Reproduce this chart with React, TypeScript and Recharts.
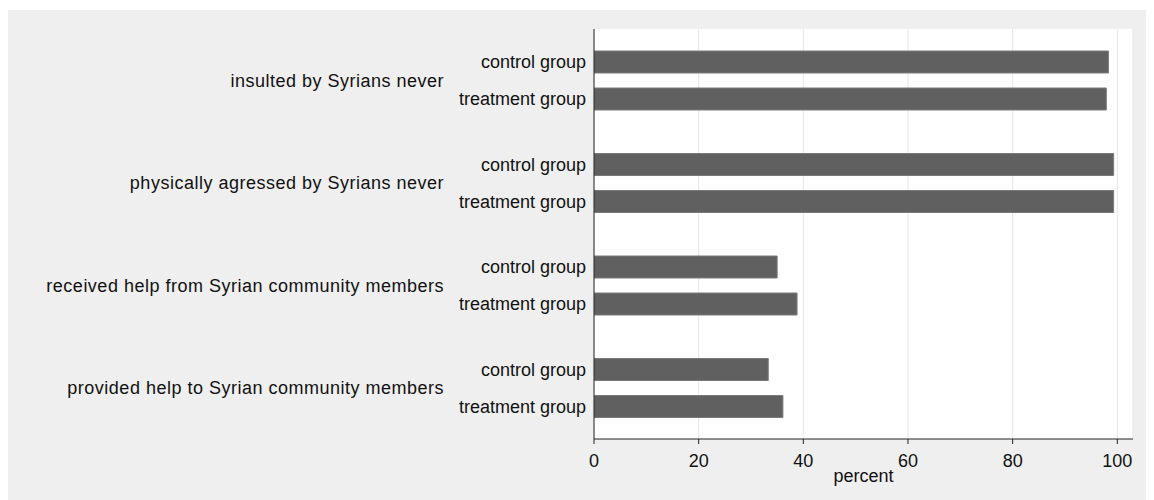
import { Bar, BarChart, CartesianGrid, LabelList, XAxis, YAxis } from 'recharts';

// Outcome questions, top to bottom
const questions = [
  'insulted by Syrians never',
  'physically agressed by Syrians never',
  'received help from Syrian community members',
  'provided help to Syrian community members',
];

// percent answering yes / never, by group
const controlValues = [98.3, 99.3, 35.0, 33.3];
const treatmentValues = [97.9, 99.3, 38.8, 36.1];

const xTicks = [0, 20, 40, 60, 80, 100];

const BAR_COLOR = '#606060';
const TEXT_COLOR = '#111';
const FONT = '"Liberation Sans", Arial, sans-serif';

const data = questions.map((q, i) => ({
  question: q,
  control: controlValues[i],
  treatment: treatmentValues[i],
}));

export default function App() {
  return (
    <div style={{ background: '#efefef', width: 1144, height: 490, marginTop: 2, fontFamily: FONT }}>
      <BarChart
        width={1144}
        height={490}
        data={data}
        layout="vertical"
        margin={{ top: 19, right: 19, bottom: 11, left: 0 }}
        barSize={22}
        barGap={15}
      >
        <CartesianGrid horizontal={false} fill="#ffffff" stroke="#e6e6e6" />
        <XAxis
          type="number"
          domain={[0, 103]}
          ticks={xTicks}
          allowDataOverflow
          height={50}
          tickSize={5}
          tickMargin={10}
          stroke="#222"
          tick={{ fill: TEXT_COLOR, fontSize: 18, fontFamily: FONT }}
          label={{ value: 'percent', position: 'insideBottom', offset: 7, fill: TEXT_COLOR, fontSize: 18, fontFamily: FONT }}
        />
        <YAxis
          type="category"
          dataKey="question"
          width={586}
          tickSize={0}
          tickMargin={150}
          stroke="#222"
          tick={{ fill: TEXT_COLOR, fontSize: 18, fontFamily: FONT, letterSpacing: 0.5 }}
        />
        <Bar dataKey="control" fill={BAR_COLOR} stroke="#7a7a7a" strokeWidth={1} isAnimationActive={false}>
          <LabelList
            position="left"
            offset={8}
            formatter={() => 'control group'}
            fill={TEXT_COLOR}
            fontSize={18}
            fontFamily={FONT}
          />
        </Bar>
        <Bar dataKey="treatment" fill={BAR_COLOR} stroke="#7a7a7a" strokeWidth={1} isAnimationActive={false}>
          <LabelList
            position="left"
            offset={8}
            formatter={() => 'treatment group'}
            fill={TEXT_COLOR}
            fontSize={18}
            fontFamily={FONT}
          />
        </Bar>
      </BarChart>
    </div>
  );
}
